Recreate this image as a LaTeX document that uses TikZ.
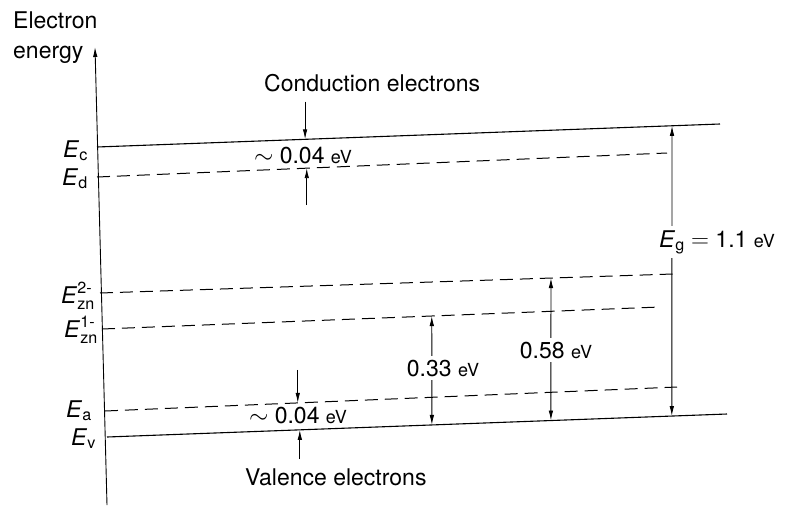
\documentclass[tikz,border=0pt]{standalone}
\usepackage{amsmath}
\usepackage{fontspec}
\setmainfont{TeX Gyre Heros}
\usetikzlibrary{arrows.meta,positioning,calc}
\newcommand{\ev}{{\fontsize{18}{20}\selectfont eV}}
\newcommand{\lvE}[1]{\textit{E}$_{\text{#1}}$}

\begin{document}
\begin{tikzpicture}[x=1pt,y=-1pt,font=\fontsize{23}{27}\selectfont,inner sep=2pt,
  >={Latex[length=10pt,width=4.5pt]},
  band/.style={line width=1.1pt},
  trap/.style={line width=1pt,dash pattern=on 13pt off 7pt},
  tip/.style={line width=0.9pt,->},
  both/.style={line width=0.9pt,<->},
  elbl/.style={anchor=base east},
  gaplbl/.style={fill=white,inner sep=4pt,anchor=base}]
\fill[white] (0,0) rectangle (785,509);
\useasboundingbox (0,0) rectangle (785,509);
% energy axis
\coordinate (ax0) at (107,505);
\coordinate (ax1) at (95,47);
\draw[tip] (ax0) -- (ax1);
\node[anchor=base west] (elec) at (11,28) {Electron};
\node[anchor=base west] (en) at (11,58) {energy};
% band edges and impurity levels
\foreach \n/\xa/\ya/\xb/\yb/\s in {c/97/147/720/124/band, d/97/177/667/153/trap,
    z2/100/293/673/274/trap, z1/102/329/660/307/trap, a/105/411/677/387/trap,
    v/107/437/727/414/band}{
  \coordinate (L\n) at (\xa,\ya);
  \coordinate (R\n) at (\xb,\yb);
  \draw[\s] (L\n) -- (R\n);
}
\node[elbl] (Ec) at ($(Lc)+(-7,10)$) {\lvE{c}};
\node[elbl] (Ed) at ($(Ld)+(-7,8)$) {\lvE{d}};
\node[elbl] (Ez2) at ($(Lz2)+(-3,10)$) {\textit{E}$_{\text{zn}}^{\text{2-}}$};
\node[elbl] (Ez1) at ($(Lz1)+(-2,8)$) {\textit{E}$_{\text{zn}}^{\text{1-}}$};
\node[elbl] (Ea) at ($(La)+(-11,6)$) {\lvE{a}};
\node[elbl] (Ev) at ($(Lv)+(-9,8)$) {\lvE{v}};
% donor and acceptor depths
\coordinate (c1) at ($(Lc)!0.334!(Rc)$);
\coordinate (d1) at ($(Ld)!0.368!(Rd)$);
\coordinate (a1) at ($(La)!0.337!(Ra)$);
\coordinate (v1) at ($(Lv)!0.311!(Rv)$);
\node[anchor=base west] (cond) at (262,91) {Conduction electrons};
\node[anchor=base west] (val) at (243,485) {Valence electrons};
\draw[tip,shorten <=8pt] (cond.south -| c1) -- (c1);
\draw[tip,shorten <=7pt] (val.north -| v1) -- (v1);
\coordinate (d0) at ($(d1)+(0,37)$);
\coordinate (a0) at ($(a1)+(0,-33)$);
\draw[tip] (d0) -- (d1);
\draw[tip] (a0) -- (a1);
\node[anchor=base] (sd) at (303,163) {$\sim$ 0.04 \ev};
\node[anchor=base] (sa) at (298,423) {$\sim$ 0.04 \ev};
% gaps, measured down to the valence band
\coordinate (g1) at ($(Lc)!0.923!(Rc)$);
\coordinate (g2) at ($(Lv)!0.911!(Rv)$);
\coordinate (z1a) at ($(Lz1)!0.591!(Rz1)$);
\coordinate (v33) at ($(Lv)!0.524!(Rv)$);
\coordinate (z2a) at ($(Lz2)!0.787!(Rz2)$);
\coordinate (v58) at ($(Lv)!0.716!(Rv)$);
\draw[both] (g1) -- (g2);
\draw[both] (z1a) -- (v33);
\draw[both] (z2a) -- (v58);
\node[gaplbl,anchor=base west] (Eg) at (655,247) {\textit{E}$_{\text{g}}$ $=$ 1.1 \ev};
\node[gaplbl] (e33) at (443,376) {0.33 \ev};
\node[gaplbl] (e58) at (556,358) {0.58 \ev};
\end{tikzpicture}
\end{document}
